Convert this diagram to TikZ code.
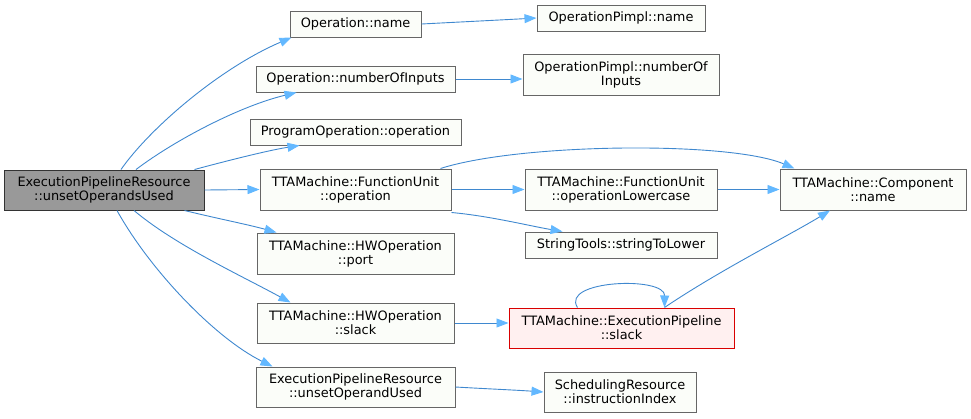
\documentclass[tikz,border=0pt]{standalone}
\usepackage{fontspec}
\setmainfont{DejaVu Sans}
\usetikzlibrary{arrows.meta}
\definecolor{edgeblue}{HTML}{3F88CF}
\definecolor{headblue}{HTML}{63B8FF}
\definecolor{boxline}{HTML}{666666}
\definecolor{boxfill}{HTML}{FBFDF9}
\definecolor{mainfill}{HTML}{999999}
\definecolor{redfill}{HTML}{FFF0F0}
\begin{document}
\begin{tikzpicture}[x=1pt,y=-1pt,
  every node/.style={font=\fontsize{12.9pt}{14pt}\selectfont, align=center, inner sep=0pt},
  fn/.style={draw=boxline, fill=boxfill, line width=1pt},
  mainfn/.style={draw=black!80, fill=mainfill, line width=1pt},
  redfn/.style={draw=red!85!black, fill=redfill, line width=1pt},
  call/.style={draw=edgeblue, line width=0.9pt, -{Triangle[length=12pt,width=9pt,color=headblue,fill=headblue]}}]
\useasboundingbox (0,0) rectangle (971,418);

\node[mainfn, minimum width=200pt, minimum height=40pt] (main) at (104,190) {ExecutionPipelineResource\\::unsetOperandsUsed};

\node[fn, minimum width=131pt, minimum height=26pt] (opname) at (355.5,24) {Operation::name};
\node[fn, minimum width=168pt, minimum height=26pt] (pimplname) at (621,18) {OperationPimpl::name};
\node[fn, minimum width=199pt, minimum height=26pt] (opnum) at (355.5,79) {Operation::numberOfInputs};
\node[fn, minimum width=196pt, minimum height=41pt] (pimplnum) at (621,74.5) {OperationPimpl::numberOf\\Inputs};
\node[fn, minimum width=211pt, minimum height=26pt] (progop) at (355.5,132) {ProgramOperation::operation};
\node[fn, minimum width=191pt, minimum height=41pt] (fuop) at (355.5,189.5) {TTAMachine::FunctionUnit\\::operation};
\node[fn, minimum width=192pt, minimum height=41pt] (fulow) at (621,189.5) {TTAMachine::FunctionUnit\\::operationLowercase};
\node[fn, minimum width=186pt, minimum height=41pt] (comp) at (873,189.5) {TTAMachine::Component\\::name};
\node[fn, minimum width=192pt, minimum height=26pt] (str) at (621,245) {StringTools::stringToLower};
\node[fn, minimum width=197pt, minimum height=41pt] (port) at (355.5,253.5) {TTAMachine::HWOperation\\::port};
\node[fn, minimum width=197pt, minimum height=40pt] (hwslack) at (355.5,323) {TTAMachine::HWOperation\\::slack};
\node[redfn, minimum width=225pt, minimum height=40pt] (epslack) at (621.5,328) {TTAMachine::ExecutionPipeline\\::slack};
\node[fn, minimum width=199pt, minimum height=40pt] (unset) at (355.5,387) {ExecutionPipelineResource\\::unsetOperandUsed};
\node[fn, minimum width=152pt, minimum height=40pt] (instr) at (620,392) {SchedulingResource\\::instructionIndex};

% edges from main
\draw[call] ([xshift=17pt]main.north) .. controls (150,128) and (220,68) .. ([xshift=2pt]opname.south west);
\draw[call] ([xshift=32pt]main.north) .. controls (175,140) and (240,106) .. ([xshift=41pt]opnum.south west);
\draw[call] ([xshift=-10pt]main.north east) .. controls (230,160) and (270,150) .. ([xshift=50pt]progop.south west);
\draw[call] (main.east) -- (fuop.west);
\draw[call] ([xshift=-20pt]main.south east) .. controls (215,218) and (250,225) .. ([xshift=20pt]port.north west);
\draw[call] ([xshift=30pt]main.south) .. controls (175,245) and (240,275) .. ([xshift=34pt]hwslack.north west);
\draw[call] ([xshift=13pt]main.south) .. controls (150,270) and (215,338) .. ([xshift=17pt]unset.north west);

% other edges
\draw[call] (opname.east) .. controls (460,22) and (500,20) .. (pimplname.west);
\draw[call] (opnum.east) -- (pimplnum.west |- opnum.east);
\draw[call] ([xshift=-11pt]fuop.north east) .. controls (520,143) and (730,141) .. ([xshift=15pt]comp.north west);
\draw[call] (fuop.east) -- (fulow.west);
\draw[call] ([yshift=-2pt]fuop.south east) .. controls (490,216) and (530,226) .. ([xshift=38pt]str.north west);
\draw[call] (fulow.east) -- (comp.west);
\draw[call] ([xshift=43pt]epslack.north) .. controls (720,270) and (790,235) .. ([xshift=-43pt]comp.south);
\draw[call] ([xshift=-44pt]epslack.north) .. controls (560,280) and (665,276) .. ([xshift=43pt]epslack.north);
\draw[call] (hwslack.east) -- (epslack.west |- hwslack.east);
\draw[call] (unset.east) .. controls (490,389) and (515,390) .. (instr.west);
\end{tikzpicture}
\end{document}
